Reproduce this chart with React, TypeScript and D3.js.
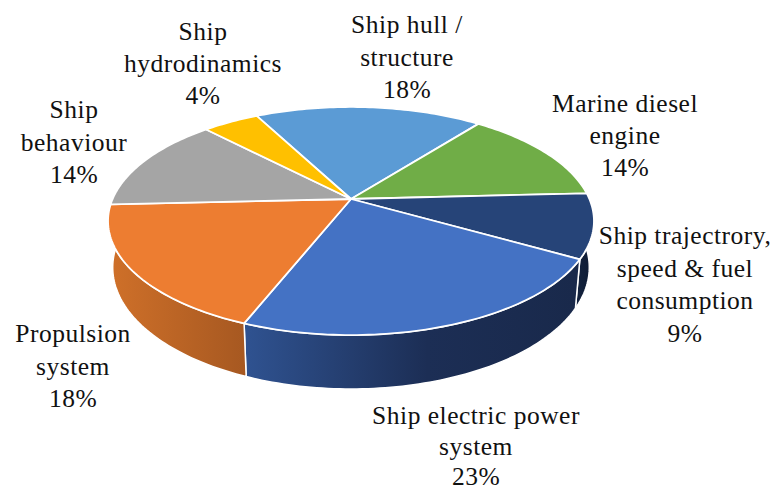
import * as d3 from "d3";

const categories = [
  "Ship hull / structure",
  "Marine diesel engine",
  "Ship trajectrory, speed & fuel consumption",
  "Ship electric power system",
  "Propulsion system",
  "Ship behaviour",
  "Ship hydrodinamics",
];
// slice sizes, the printed percentages are rounded
const shares = [18.2, 13.6, 9.1, 22.7, 18.2, 13.6, 4.5];
const percentLabels = ["18%", "14%", "9%", "23%", "18%", "14%", "4%"];

const labelLines = [
  ["Ship hull /", "structure"],
  ["Marine diesel", "engine"],
  ["Ship trajectrory,", "speed & fuel", "consumption"],
  ["Ship electric power", "system"],
  ["Propulsion", "system"],
  ["Ship", "behaviour"],
  ["Ship", "hydrodinamics"],
];
const labelX = [407, 625, 685, 476, 73, 74, 203];
const labelY = [33, 112, 244, 424, 342, 118, 40];
const labelGap = [32.5, 32, 32.5, 30.5, 32.5, 32.5, 32];

const topColors = ["#5b9bd5", "#70ad47", "#264478", "#4472c4", "#ed7d31", "#a5a5a5", "#ffc000"];
const wallColors = ["#5b9bd5", "#70ad47", "url(#wallTrajectory)", "url(#wallElectric)", "url(#wallPropulsion)", "#a5a5a5", "#ffc000"];

const width = 774;
const height = 491;

// the disc is a circle seen in perspective, so each plane gets its own projection
const tilt = 0.193;
const topPlane = { cx: 351, cy: 199, a: 238.4, b: 109.8 };
const basePlane = { cx: 351, cy: 244, a: 233.8, b: 117 };

type Plane = typeof topPlane;

function project(plane: Plane, angle: number): [number, number] {
  const u = Math.sin(angle);
  const v = Math.cos(angle);
  const s = 1 / (1 + tilt * v);
  return [plane.cx + plane.a * u * s, plane.cy - plane.b * v * s];
}

function arcPoints(plane: Plane, start: number, end: number) {
  const steps = Math.max(Math.ceil((end - start) / 0.02), 1);
  const t = d3.scaleLinear().domain([0, steps]).range([start, end]);
  return d3.range(steps + 1).map((i) => project(plane, t(i)));
}

const line = d3.line();
const startAngle = (-27.6 * Math.PI) / 180;
const slices = d3
  .pie<number>()
  .sort(null)
  .startAngle(startAngle)
  .endAngle(startAngle + 2 * Math.PI)(shares);

export default function App() {
  const apex: [number, number] = [topPlane.cx, topPlane.cy];
  return (
    <svg
      width={width}
      height={height}
      viewBox={`0 0 ${width} ${height}`}
      style={{ position: "absolute", left: 0, top: 0 }}
      fontFamily="'Liberation Serif', serif"
    >
      <defs>
        <linearGradient id="wallPropulsion" gradientUnits="userSpaceOnUse" x1="110" x2="247" y1="0" y2="0">
          <stop offset="0" stopColor="#cf7029" />
          <stop offset="1" stopColor="#a65821" />
        </linearGradient>
        <linearGradient id="wallElectric" gradientUnits="userSpaceOnUse" x1="247" x2="575" y1="0" y2="0">
          <stop offset="0" stopColor="#2f5290" />
          <stop offset="0.55" stopColor="#1c2e55" />
          <stop offset="1" stopColor="#19294b" />
        </linearGradient>
        <linearGradient id="wallTrajectory" gradientUnits="userSpaceOnUse" x1="575" x2="594" y1="0" y2="0">
          <stop offset="0" stopColor="#14233f" />
          <stop offset="1" stopColor="#0d1a33" />
        </linearGradient>
      </defs>

      {slices.map((s, i) => (
        <path
          key={`wall-${categories[i]}`}
          d={line([...arcPoints(topPlane, s.startAngle, s.endAngle), ...arcPoints(basePlane, s.startAngle, s.endAngle).reverse()]) + "Z"}
          fill={wallColors[i]}
          stroke="#fff"
          strokeWidth={1.5}
        />
      ))}

      {slices.map((s, i) => (
        <path
          key={`top-${categories[i]}`}
          d={line([apex, ...arcPoints(topPlane, s.startAngle, s.endAngle)]) + "Z"}
          fill={topColors[i]}
          stroke="#fff"
          strokeWidth={1.8}
          strokeLinejoin="round"
        />
      ))}

      {slices.map((s, i) => (
        <text key={`label-${categories[i]}`} textAnchor="middle" fontSize={25.5} letterSpacing={0.5} fill="#111">
          {[...labelLines[i], percentLabels[i]].map((t, j) => (
            <tspan key={j} x={labelX[i]} y={labelY[i] + j * labelGap[i]}>
              {t}
            </tspan>
          ))}
        </text>
      ))}
    </svg>
  );
}
